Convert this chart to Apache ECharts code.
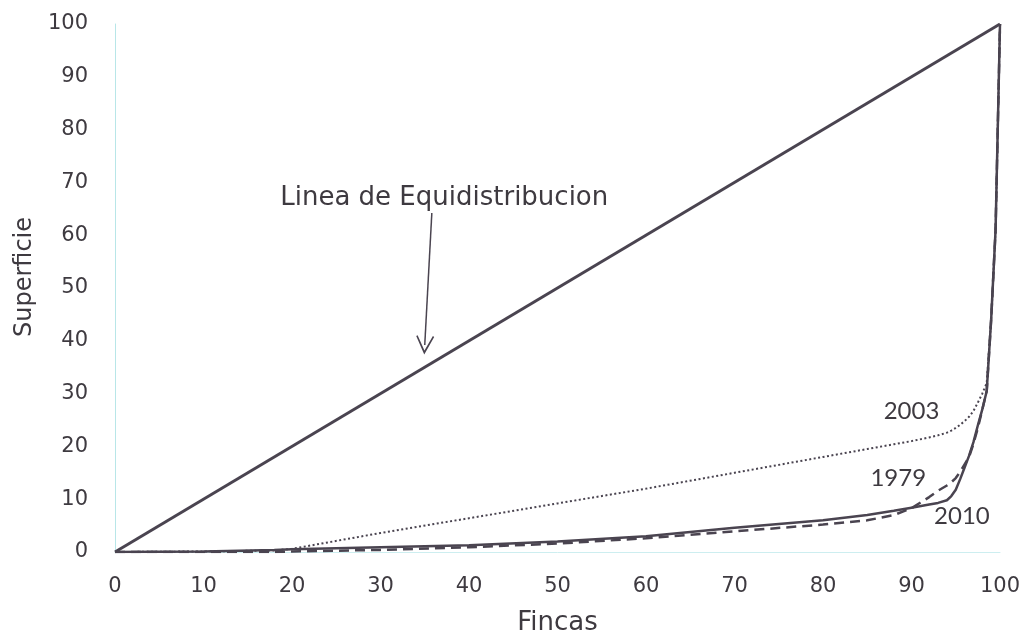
<!DOCTYPE html>
<html>
<head>
<meta charset="utf-8">
<script src="https://cdn.jsdelivr.net/npm/echarts@6/dist/echarts.min.js"></script>
<style>
  html, body { margin: 0; padding: 0; background: #fff; }
  #main { width: 1029px; height: 634px; }
</style>
</head>
<body>
<div id="main"></div>
<script>
// Fincas (%) acumulado
const fincas  = [0, 10, 18, 20, 30, 40, 50, 60, 70, 80, 85, 88, 90, 92, 93, 94, 94.5, 95, 95.5, 96, 96.5, 97, 97.5, 98, 98.5, 99, 99.5, 100];
// Superficie (%) acumulada por año
const sup2003 = [0, 0.1, 0.3, 0.6, 3.6, 6.4, 9.2, 12, 15, 18, 19.5, 20.4, 21, 21.7, 22.1, 22.6, 23, 23.5, 24.1, 24.8, 25.6, 26.7, 28.3, 30, 32, 44, 61, 100];
const sup1979 = [0, 0, 0, 0.1, 0.4, 0.9, 1.6, 2.6, 3.9, 5.2, 6, 7, 8.3, 10.4, 11.6, 12.6, 13.2, 14, 15.2, 16.6, 18, 20.5, 23.5, 27, 30.5, 44, 61, 100];
const sup2010 = [0, 0.1, 0.4, 0.5, 0.9, 1.3, 2, 3, 4.6, 6, 7, 7.8, 8.4, 9, 9.3, 9.8, 10.6, 11.8, 13.8, 16, 18.2, 20.8, 24, 27, 30.5, 44, 61, 100];
const equidistribucion = [[0, 0], [100, 100]];

const toPairs = (ys) => fincas.map((x, i) => [x, ys[i]]);

const lineColor = '#4a4450';
const textColor = '#3e3a40';

const chart = echarts.init(document.getElementById('main'));

// etiqueta de texto suelta dentro del grid
const textMark = (text, coord, font, size) => ({
  symbol: 'rect',
  symbolSize: 1,
  silent: true,
  itemStyle: { color: 'rgba(0,0,0,0)' },
  data: [{
    coord: coord,
    label: {
      show: true,
      formatter: text,
      position: 'inside',
      color: textColor,
      fontFamily: font,
      fontSize: size
    }
  }]
});

const option = {
  animation: false,
  grid: {
    left: 115,
    right: 29,
    top: 24,
    bottom: 82,
    outerBoundsMode: 'none',
    containLabel: false
  },
  xAxis: {
    type: 'value',
    min: 0,
    max: 100,
    interval: 10,
    name: 'Fincas',
    nameLocation: 'middle',
    nameGap: 58,
    nameTextStyle: { color: textColor, fontFamily: 'DejaVu Sans', fontSize: 26 },
    axisLine: { show: true, lineStyle: { color: '#cdeef0', width: 1 } },
    axisTick: { show: false },
    splitLine: { show: false },
    axisLabel: { color: textColor, fontFamily: 'DejaVu Sans', fontSize: 21, margin: 24 }
  },
  yAxis: {
    type: 'value',
    min: 0,
    max: 100,
    interval: 10,
    name: 'Superficie',
    nameLocation: 'middle',
    nameGap: 66,
    nameTextStyle: { color: textColor, fontFamily: 'DejaVu Sans', fontSize: 24, padding: [0, 0, 0, 22] },
    axisLine: { show: true, lineStyle: { color: '#b8e6e8', width: 1 } },
    axisTick: { show: false },
    splitLine: { show: false },
    axisLabel: { color: textColor, fontFamily: 'DejaVu Sans', fontSize: 21, margin: 27 }
  },
  series: [
    {
      name: 'Linea de Equidistribucion',
      type: 'line',
      data: equidistribucion,
      symbol: 'none',
      lineStyle: { color: lineColor, width: 3 },
      markPoint: textMark('Linea de Equidistribucion', [37.2, 67], 'DejaVu Sans', 26),
      markLine: {
        silent: true,
        symbol: ['none', 'path://M10,0 L20,18 L18.5,19 L10,4 L1.5,19 L0,18 Z'],
        symbolSize: [18, 19],
        label: { show: false },
        lineStyle: { color: lineColor, width: 1.5, type: 'solid' },
        data: [[{ coord: [35.8, 64.2] }, { coord: [35.0, 39.2] }]]
      }
    },
    {
      name: '2003',
      type: 'line',
      data: toPairs(sup2003),
      symbol: 'none',
      lineStyle: { color: lineColor, width: 2, type: [2, 2.5] },
      markPoint: textMark('2003', [90, 26.7], 'Lato', 24)
    },
    {
      name: '1979',
      type: 'line',
      data: toPairs(sup1979),
      symbol: 'none',
      lineStyle: { color: lineColor, width: 2.5, type: [10, 6] },
      markPoint: textMark('1979', [88.5, 14], 'Lato', 24)
    },
    {
      name: '2010',
      type: 'line',
      data: toPairs(sup2010),
      symbol: 'none',
      lineStyle: { color: lineColor, width: 2.5 },
      markPoint: textMark('2010', [95.7, 6.8], 'Lato', 24)
    }
  ]
};

chart.setOption(option);
</script>
</body>
</html>
